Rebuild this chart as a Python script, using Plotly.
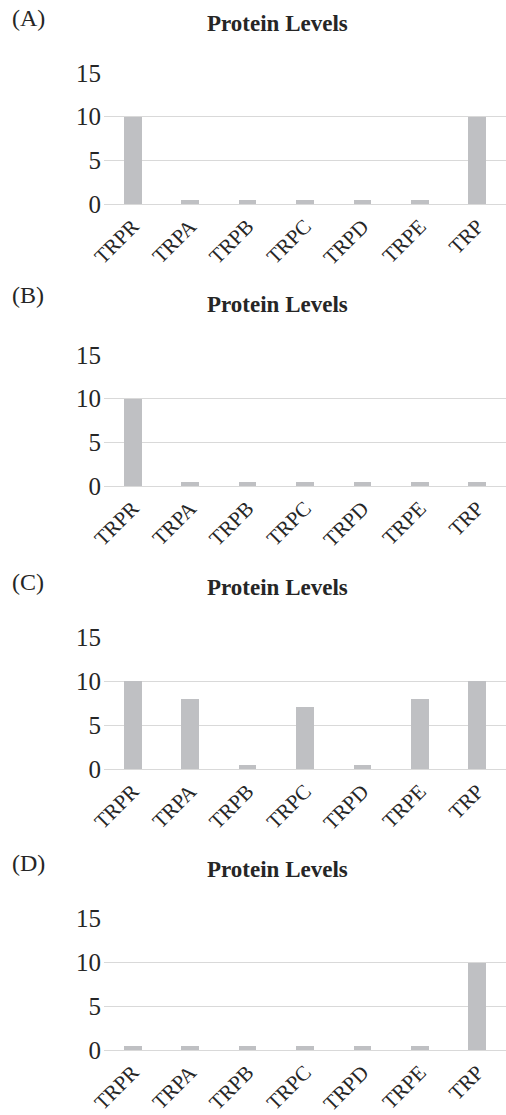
import plotly.graph_objects as go

# Protein levels per gene product, four conditions (A)-(D)
categories = ["TRPR", "TRPA", "TRPB", "TRPC", "TRPD", "TRPE", "TRP"]
levels_a = [10, 0.5, 0.5, 0.5, 0.5, 0.5, 10]
levels_b = [10, 0.5, 0.5, 0.5, 0.5, 0.5, 0.5]
levels_c = [10, 8, 0.5, 7, 0.5, 8, 10]
levels_d = [0.4, 0.4, 0.4, 0.4, 0.4, 0.4, 9.9]
panel_labels = ["(A)", "(B)", "(C)", "(D)"]
panel_title = "Protein Levels"
y_ticks = [0, 5, 10, 15]

W, H = 506, 1115
FONT = "Liberation Serif"
TEXT = "#262626"
BAR = "#bfc0c3"
GRID = "#d9d9d9"

# pixel layout of each panel: (value 15, value 0, title y, label y)
panels = [
    (73, 204, 24, 18),
    (355, 486, 304, 295),
    (637, 769, 587, 582),
    (918, 1050, 869, 863),
]
series = [levels_a, levels_b, levels_c, levels_d]

fig = go.Figure()
x_left = 104 / W

annotations = []
for i, (vals, (top, bottom, ty, ly)) in enumerate(zip(series, panels)):
    n = "" if i == 0 else str(i + 1)
    fig.add_trace(go.Bar(
        x=categories, y=vals, width=0.31,
        marker=dict(color=BAR, line=dict(width=0)),
        xaxis="x" + n, yaxis="y" + n, showlegend=False, hoverinfo="x+y",
    ))
    fig.layout["xaxis" + n] = dict(
        domain=[x_left, 1], anchor="y" + n, range=[-0.5, 6.5],
        tickangle=-45, showgrid=False, showline=False, ticks="",
        automargin=False, ticklabelstandoff=5,
        tickfont=dict(family=FONT, size=21, color=TEXT),
        categoryorder="array", categoryarray=categories,
    )
    fig.layout["yaxis" + n] = dict(
        domain=[1 - bottom / H, 1 - top / H], anchor="x" + n,
        range=[0, 15], tickvals=y_ticks, showgrid=True, gridcolor=GRID,
        gridwidth=1.4, zeroline=True, zerolinecolor=GRID, zerolinewidth=1.4,
        showline=False, ticks="", ticklabelstandoff=2, automargin=False,
        tickfont=dict(family=FONT, size=25, color=TEXT),
    )
    annotations.append(dict(
        text="<b>" + panel_title + "</b>", xref="paper", yref="paper",
        x=277.5 / W, y=1 - ty / H, xanchor="center", yanchor="middle",
        showarrow=False, font=dict(family=FONT, size=23, color=TEXT),
    ))
    annotations.append(dict(
        text=panel_labels[i], xref="paper", yref="paper",
        x=10 / W, y=1 - ly / H, xanchor="left", yanchor="middle",
        showarrow=False, font=dict(family=FONT, size=24, color=TEXT),
    ))

fig.update_layout(
    width=W, height=H, margin=dict(l=0, r=0, t=0, b=0, autoexpand=False),
    paper_bgcolor="white", plot_bgcolor="white",
    annotations=annotations, bargap=0,
)

fig.write_html("out.html")
